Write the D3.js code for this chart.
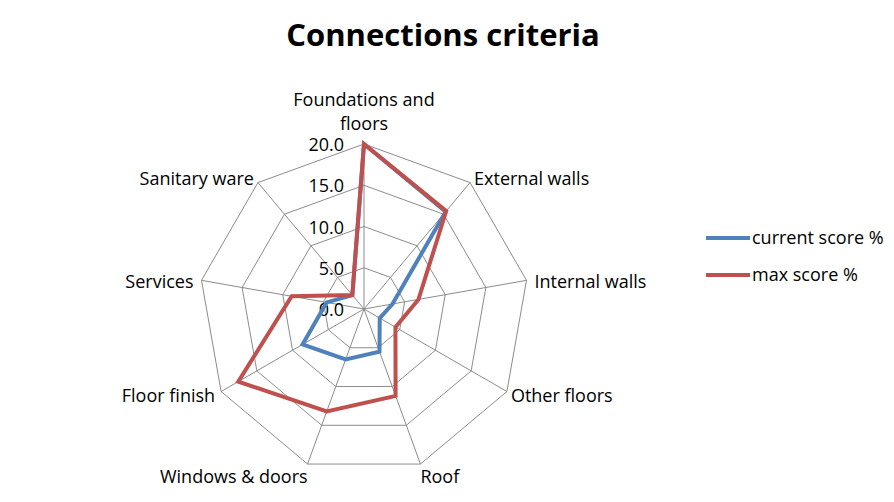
<!DOCTYPE html>
<html><head><meta charset="utf-8">
<script src="https://cdn.jsdelivr.net/npm/d3@7"></script>
<style>body{margin:0;background:#fff;} text{font-family:"Open Sans",sans-serif;fill:#000;}</style>
</head><body>
<svg id="c" width="894" height="502"></svg>
<script>
const categories = ["Foundations and floors","External walls","Internal walls","Other floors","Roof","Windows & doors","Floor finish","Services","Sanitary ware"];
const currentScore = [20.0, 15.4, 3.5, 2.2, 5.5, 6.5, 8.6, 4.6, 2.2];
const maxScore = [20.0, 15.5, 6.7, 4.4, 11.2, 13.2, 17.6, 8.9, 2.2];
const tickValues = [0, 5, 10, 15, 20];
const seriesNames = ["current score %", "max score %"];
const colors = ["#4F81BD", "#C0504D"];

const svg = d3.select("#c");
const cx = 364, cy = 309, R = 165;
const r = d3.scaleLinear().domain([0, 20]).range([0, R]);
const ang = d3.scalePoint().domain(d3.range(categories.length + 1)).range([0, 2 * Math.PI]);
const a = i => ang(i);
const pt = (i, v) => [cx + r(v) * Math.sin(a(i)), cy - r(v) * Math.cos(a(i))];

svg.append("text").attr("x", 443).attr("y", 46).attr("text-anchor", "middle")
  .style("font-size", "31px").style("font-weight", "bold").text("Connections criteria");

const g = svg.append("g");
// rings
tickValues.filter(t => t > 0).forEach(t => {
  g.append("path")
    .attr("d", d3.line()(categories.map((c, i) => pt(i, t))) + "Z")
    .attr("fill", "none").attr("stroke", "#8c8c8c").attr("stroke-width", 1);
});
// spokes
categories.forEach((c, i) => {
  const [x, y] = pt(i, 20);
  g.append("line").attr("x1", cx).attr("y1", cy).attr("x2", x).attr("y2", y)
    .attr("stroke", "#8c8c8c").attr("stroke-width", 1);
});
// tick labels
tickValues.forEach(t => {
  g.append("text").attr("x", cx - 20).attr("y", cy - r(t) + 7).attr("text-anchor", "end")
    .style("font-size", "18px").text(d3.format(".1f")(t));
});
// series
[currentScore, maxScore].forEach((s, k) => {
  g.append("path")
    .attr("d", d3.line()(s.map((v, i) => pt(i, v))) + "Z")
    .attr("fill", "none").attr("stroke", colors[k]).attr("stroke-width", 4)
    .attr("stroke-linejoin", "miter");
});
// category labels
const labelPos = [
  {dx: 0, dy: 0, anchor: "middle"},
  {dx: 4, dy: -4, anchor: "start"},
  {dx: 8, dy: 2, anchor: "start"},
  {dx: 4, dy: 4, anchor: "start"},
  {dx: 0, dy: 13, anchor: "start"},
  {dx: 0, dy: 13, anchor: "end"},
  {dx: -6, dy: 4, anchor: "end"},
  {dx: -8, dy: 2, anchor: "end"},
  {dx: -4, dy: -4, anchor: "end"}
];
categories.forEach((c, i) => {
  const [x, y] = pt(i, 20);
  const p = labelPos[i];
  if (i === 0) {
    const t = g.append("text").attr("x", x).attr("y", 106).attr("text-anchor", "middle").style("font-size", "18px");
    t.append("tspan").attr("x", x).attr("dy", 0).text("Foundations and");
    t.append("tspan").attr("x", x).attr("dy", 24).text("floors");
  } else {
    g.append("text").attr("x", x + p.dx).attr("y", y + p.dy + 6).attr("text-anchor", p.anchor)
      .style("font-size", "18px").text(c);
  }
});
// legend
seriesNames.forEach((n, k) => {
  const y = 238 + k * 37;
  svg.append("line").attr("x1", 706).attr("x2", 750).attr("y1", y).attr("y2", y)
    .attr("stroke", colors[k]).attr("stroke-width", 4);
  svg.append("text").attr("x", 752).attr("y", y + 6).style("font-size", "18px").text(n);
});
</script>
</body></html>
